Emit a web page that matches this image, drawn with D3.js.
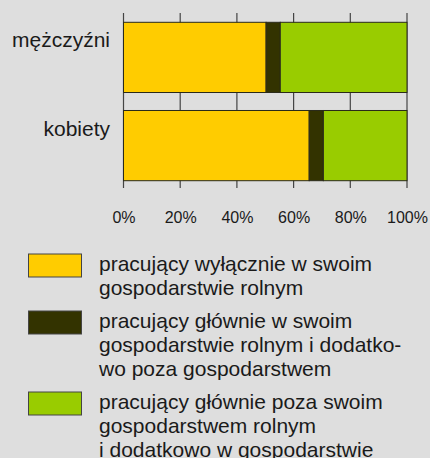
<!DOCTYPE html>
<html>
<head>
<meta charset="utf-8">
<script src="https://cdn.jsdelivr.net/npm/d3@7"></script>
<style>
  html, body { margin: 0; padding: 0; background: #dedede; }
  svg { display: block; font-family: "Liberation Sans", Arial, sans-serif; }
</style>
</head>
<body>
<svg id="chart" width="430" height="458"></svg>
<script>
// data
const categories = ['mężczyźni', 'kobiety'];
const seriesKeys = ['wylacznie', 'glownieW', 'glowniePoza'];
const wylacznie = [50.3, 65.5];   // pracujący wyłącznie w swoim gospodarstwie
const glownieW = [5.0, 5.0];      // głównie w swoim + dodatkowo poza
const glowniePoza = [44.7, 29.5]; // głównie poza swoim + dodatkowo w gosp.
const tickValues = [0, 20, 40, 60, 80, 100];
const colors = ['#ffcc00', '#333300', '#99cc00'];
const legendLines = [
  ['pracujący wyłącznie w swoim', 'gospodarstwie rolnym'],
  ['pracujący głównie w swoim', 'gospodarstwie rolnym i dodatko-', 'wo poza gospodarstwem'],
  ['pracujący głównie poza swoim', 'gospodarstwem rolnym', 'i dodatkowo w gospodarstwie']
];

const svg = d3.select('#chart');

const x = d3.scaleLinear().domain([0, 100]).range([123.5, 407]);
const y = d3.scaleBand().domain(categories).range([22.3, 180.7]).paddingInner(0.204).paddingOuter(0);

// rows for stacking
const rows = categories.map((c, i) => ({
  cat: c, wylacznie: wylacznie[i], glownieW: glownieW[i], glowniePoza: glowniePoza[i]
}));
const stacked = d3.stack().keys(seriesKeys)(rows);

// vertical grid / tick lines behind the bars
svg.append('g')
  .selectAll('line')
  .data(tickValues)
  .join('line')
  .attr('x1', d => x(d)).attr('x2', d => x(d))
  .attr('y1', 13).attr('y2', 188)
  .attr('stroke', '#444')
  .attr('stroke-width', 1.2);

// bars
svg.append('g')
  .selectAll('g')
  .data(stacked)
  .join('g')
  .attr('fill', (d, i) => colors[i])
  .selectAll('rect')
  .data(d => d)
  .join('rect')
  .attr('x', d => x(d[0]))
  .attr('width', d => x(d[1]) - x(d[0]))
  .attr('y', d => y(d.data.cat))
  .attr('height', y.bandwidth())
  .attr('stroke', '#2a2a1a')
  .attr('stroke-width', 1);

// x axis labels
const xAxis = d3.axisBottom(x).tickValues(tickValues).tickFormat(d => d + '%').tickSize(0).tickPadding(0);
const gx = svg.append('g').attr('transform', 'translate(0,212)').call(xAxis);
gx.select('.domain').remove();
gx.selectAll('text')
  .attr('font-size', 16)
  .attr('font-family', '"Liberation Sans", Arial, sans-serif')
  .attr('fill', '#1a1a1a');

// category labels
svg.append('g')
  .selectAll('text')
  .data(categories)
  .join('text')
  .attr('x', 110)
  .attr('y', d => y(d) + y.bandwidth() / 2 - 10)
  .attr('text-anchor', 'end')
  .attr('font-size', 21)
  .attr('fill', '#1a1a1a')
  .text(d => d);

// legend
const lineH = 24;
let itemTop = 254;
legendLines.forEach((lines, i) => {
  const g = svg.append('g');
  g.append('rect')
    .attr('x', 28.5).attr('y', itemTop)
    .attr('width', 53).attr('height', 23)
    .attr('fill', colors[i])
    .attr('stroke', '#444')
    .attr('stroke-width', 1);
  g.selectAll('text')
    .data(lines)
    .join('text')
    .attr('x', 99)
    .attr('y', (d, j) => itemTop + 17 + j * lineH)
    .attr('font-size', 21)
    .attr('fill', '#1a1a1a')
    .text(d => d);
  itemTop += lines.length * lineH + 9;
});
</script>
</body>
</html>
